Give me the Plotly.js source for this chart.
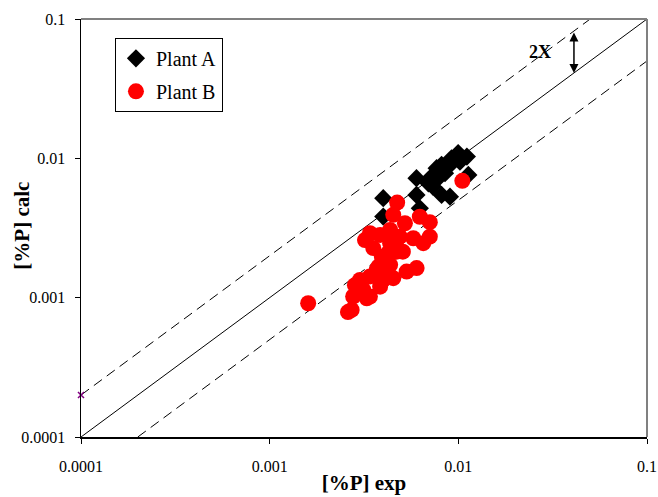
<!DOCTYPE html>
<html>
<head>
<meta charset="utf-8">
<script src="https://cdn.plot.ly/plotly-3.0.1.min.js"></script>
<style>html,body{margin:0;padding:0;background:#fff;}#chart{width:658px;height:497px;}</style>
</head>
<body>
<div id="chart"></div>
<script>
// Plant A (diamonds)
const plantA_exp = [0.0040, 0.0040, 0.0060, 0.0060, 0.00625, 0.00694, 0.00722, 0.00767, 0.00783, 0.00815,
  0.0085, 0.00884, 0.00903, 0.0092, 0.00998, 0.0102, 0.0111, 0.0113, 0.00815, 0.00733];
const plantA_calc = [0.00518, 0.00382, 0.0072, 0.00546, 0.00438, 0.00662, 0.0074, 0.0085, 0.0072, 0.00546,
  0.00782, 0.0087, 0.00531, 0.0100, 0.0109, 0.00946, 0.0103, 0.0076, 0.00898, 0.00627];
// Plant B (circles)
const plantB_exp = [0.00474, 0.00452, 0.00521, 0.00625, 0.00706, 0.0034, 0.0032, 0.00385, 0.00435, 0.0049,
  0.00577, 0.00706, 0.00652, 0.00354, 0.00393, 0.00471, 0.00532, 0.00601, 0.00435, 0.00377,
  0.0034, 0.00301, 0.00283, 0.00313, 0.00277, 0.0034, 0.00272, 0.0016, 0.00385, 0.00435,
  0.0105, 0.00435, 0.00471, 0.00508, 0.00424, 0.00417, 0.00369, 0.0040, 0.00452, 0.00327, 0.0026];
const plantB_calc = [0.00481, 0.00393, 0.00342, 0.00381, 0.00348, 0.0029, 0.00259, 0.00282, 0.00246, 0.00274,
  0.00267, 0.00274, 0.00246, 0.00227, 0.00197, 0.00214, 0.00154, 0.00163, 0.00142, 0.00167,
  0.00142, 0.00134, 0.00123, 0.00114, 0.00102, 0.00102, 0.000817, 0.000912, 0.0012, 0.00172,
  0.00689, 0.00306, 0.00259, 0.00214, 0.00209, 0.00172, 0.00158, 0.00134, 0.00138, 0.00099, 0.000788];
// reference lines: parity, 2x above, 2x below
const parity_x = [0.0001, 0.1];
const parity_y = [0.0001, 0.1];
const upper_x = [0.0001, 0.05];
const upper_y = [0.0002, 0.1];
const lower_x = [0.0002, 0.1];
const lower_y = [0.0001, 0.05];
const tickVals = [0.0001, 0.001, 0.01, 0.1];
const tickText = ['0.0001', '0.001', '0.01', '0.1'];

const font = 'Liberation Serif, Times New Roman, serif';

const traces = [
  {x: parity_x, y: parity_y, mode: 'lines', line: {color: '#000', width: 1}, showlegend: false, hoverinfo: 'skip'},
  {x: upper_x, y: upper_y, mode: 'lines', line: {color: '#000', width: 1, dash: '10px,6px'}, showlegend: false, hoverinfo: 'skip'},
  {x: lower_x, y: lower_y, mode: 'lines', line: {color: '#000', width: 1, dash: '10px,6px'}, showlegend: false, hoverinfo: 'skip'},
  {x: [upper_x[0]], y: [upper_y[0]], mode: 'markers', marker: {symbol: 'x-thin', size: 6, color: '#800080', line: {color: '#800080', width: 1.5}}, cliponaxis: false, showlegend: false, hoverinfo: 'skip'},
  {x: plantA_exp, y: plantA_calc, mode: 'markers', name: 'Plant A', legendgroup: 'a', marker: {symbol: 'diamond', size: 14, color: '#000'}},
  {x: plantB_exp, y: plantB_calc, mode: 'markers', name: 'Plant B', legendgroup: 'b', marker: {symbol: 'circle', size: 16, color: '#ff0000'}}
];

const axisCommon = {
  type: 'log', showgrid: false, zeroline: false,
  showline: true, linecolor: '#000', linewidth: 1.5,
  ticks: 'outside', ticklen: 5, tickcolor: '#000', tickwidth: 1,
  tickvals: tickVals, ticktext: tickText,
  tickfont: {family: font, size: 16, color: '#000'}
};

const layout = {
  width: 658, height: 497,
  margin: {l: 81, r: 11, t: 19, b: 60},
  paper_bgcolor: '#fff', plot_bgcolor: '#fff',
  font: {family: font, color: '#000'},
  showlegend: true,
  legend: {x: 0.06, y: 0.955, xanchor: 'left', yanchor: 'top',
    bordercolor: '#000', borderwidth: 1, bgcolor: '#fff',
    font: {family: font, size: 20, color: '#000'}, itemwidth: 30, tracegroupgap: 4},
  xaxis: Object.assign({}, axisCommon, {range: [-4, -1], ticklabelstandoff: 9,
    title: {text: '<b>[%P] exp</b>', font: {family: font, size: 21, color: '#000'}, standoff: 1}}),
  yaxis: Object.assign({}, axisCommon, {range: [-4, -1], ticklabelstandoff: 6}),
  shapes: [
    {type: 'line', xref: 'paper', yref: 'paper', x0: 0, x1: 1, y0: 1, y1: 1, line: {color: '#808080', width: 2}},
    {type: 'line', xref: 'paper', yref: 'paper', x0: 1, x1: 1, y0: 0, y1: 1, line: {color: '#808080', width: 2}}
  ],
  annotations: [
    {x: -0.104, y: 0.506, xref: 'paper', yref: 'paper', text: '<b>[%P] calc</b>', textangle: -90,
     showarrow: false, xanchor: 'center', yanchor: 'middle', font: {family: font, size: 21, color: '#000'}},
    {x: Math.log10(0.041), y: Math.log10(0.041), ax: Math.log10(0.041), ay: Math.log10(0.082),
     xref: 'x', yref: 'y', axref: 'x', ayref: 'y', text: '', showarrow: true,
     arrowhead: 2, startarrowhead: 2, arrowside: 'end+start', arrowsize: 1.2, arrowwidth: 1.5, arrowcolor: '#000',
     standoff: 0, startstandoff: 0},
    {x: Math.log10(0.0271), y: Math.log10(0.0581), xref: 'x', yref: 'y', text: '<b>2X</b>', showarrow: false,
     font: {family: font, size: 18, color: '#000'}}
  ]
};

Plotly.newPlot('chart', traces, layout, {displayModeBar: false, staticPlot: true});
</script>
</body>
</html>
